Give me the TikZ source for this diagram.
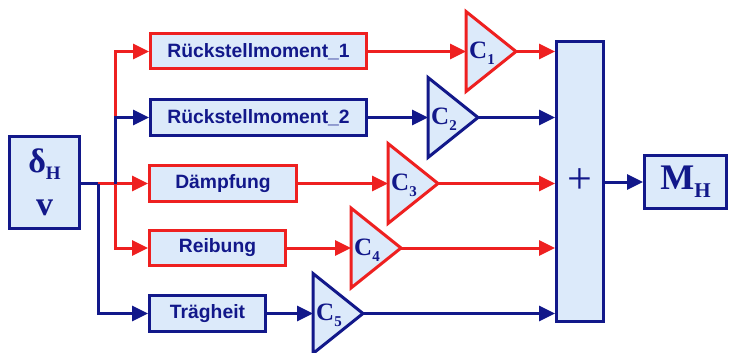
\documentclass[tikz,border=0pt]{standalone}
\usepackage{fontspec}
\setmainfont{Liberation Serif}
\newfontfamily\lsans{Liberation Sans}
\usetikzlibrary{arrows.meta}
\definecolor{nav}{RGB}{18,24,138}
\definecolor{rd}{RGB}{238,32,32}
\definecolor{lb}{RGB}{220,234,250}
\newcommand\gainamp[5]{%
  \coordinate (#1in) at (#2,#3);
  \coordinate (#1out) at (#2+50,#3);
  \draw[draw=#4, fill=lb, line width=3pt, line join=miter] (#2,#3-40) -- (#1out) -- (#2,#3+40) -- cycle;
  \node[gtext, anchor=base west] (#1lab) at (#2+3,#3+7) {C\raisebox{-6pt}{\fontsize{15}{15}\selectfont #5}};
}
\begin{document}
\begin{tikzpicture}[x=1pt,y=-1pt,
  box/.style={draw=#1, fill=lb, line width=3pt, inner sep=0pt, text=nav,
    font=\lsans\bfseries\fontsize{19.3}{20}\selectfont},
  gtext/.style={inner sep=0pt, text=nav, font=\bfseries\fontsize{25}{25}\selectfont},
  conn/.style={draw=#1, line width=3pt, line join=miter},
  arr/.style={conn=#1, -{Triangle[length=16pt,width=15pt]}}
]
\fill[white] (0,0) rectangle (732,353);
\useasboundingbox (0,0) rectangle (732,353);

% input and output
\node[box=nav, minimum width=70pt, minimum height=92pt, align=center,
  font=\bfseries\fontsize{34}{43}\selectfont] (in) at (44.5,182.5)
  {δ\raisebox{-7pt}{\fontsize{19}{19}\selectfont H}\\v};
\node[box=nav, minimum width=47pt, minimum height=280pt,
  font=\fontsize{44}{44}\selectfont] (sum) at (580,181.5) {+};
\node[box=nav, minimum width=82pt, minimum height=53pt,
  font=\bfseries\fontsize{36}{36}\selectfont] (MH) at (685.5,182)
  {M\raisebox{-8pt}{\fontsize{21}{21}\selectfont H}};

% blocks
\node[box=rd,  minimum width=216pt, minimum height=35pt] (R1)  at (258.5,51.5) {Rückstellmoment\_1};
\node[box=nav, minimum width=216pt, minimum height=36pt] (R2)  at (258.5,117.5) {Rückstellmoment\_2};
\node[box=rd,  minimum width=147pt, minimum height=36pt] (Dae) at (223,183.5) {Dämpfung};
\node[box=rd,  minimum width=136pt, minimum height=35pt] (Rei) at (217.5,248) {Reibung};
\node[box=nav, minimum width=116pt, minimum height=36pt] (Tra) at (207.5,313.5) {Trägheit};

% gains
\gainamp{ga}{466}{51.5}{rd}{1}
\gainamp{gb}{428}{117.5}{nav}{2}
\gainamp{gc}{388}{183.5}{rd}{3}
\gainamp{gd}{351}{248}{rd}{4}
\gainamp{ge}{313}{313.5}{nav}{5}

% distribution
\coordinate (j0) at (98,183.5);
\coordinate (j1) at (115,183.5);
\draw[arr=rd] (j0) -- (Dae.west);
\draw[arr=rd] (j1) |- (R1.west);
\draw[arr=rd] (j1) |- (Rei.west);
\draw[conn=nav] (in.east |- j0) -- (j0);
\draw[arr=nav] (j0) |- (Tra.west);
\draw[arr=nav] (j1) |- (R2.west);

% blocks to gains
\draw[arr=rd]  (R1.east)  -- (gain);
\draw[arr=nav] (R2.east)  -- (gbin);
\draw[arr=rd]  (Dae.east) -- (gcin);
\draw[arr=rd]  (Rei.east) -- (gdin);
\draw[arr=nav] (Tra.east) -- (gein);

% gains to sum
\draw[arr=rd]  (gaout) -- (sum.west |- gaout);
\draw[arr=nav] (gbout) -- (sum.west |- gbout);
\draw[arr=rd]  (gcout) -- (sum.west |- gcout);
\draw[arr=rd]  (gdout) -- (sum.west |- gdout);
\draw[arr=nav] (geout) -- (sum.west |- geout);

% sum to output
\draw[arr=nav] (sum.east |- MH.west) -- (MH.west);
\end{tikzpicture}
\end{document}
